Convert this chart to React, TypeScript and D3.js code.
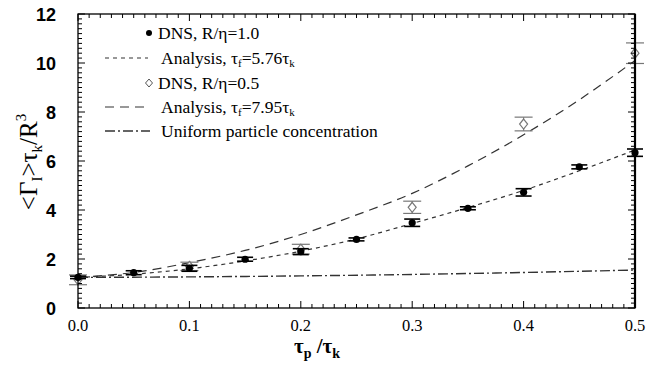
import React from "react";
import * as d3 from "d3";

const W = 647, H = 373;
const M = { left: 78, right: 635, top: 14, bottom: 308 };

const xTicks = [0, 0.1, 0.2, 0.3, 0.4, 0.5];
const xTickLabels = ["0.0", "0.1", "0.2", "0.3", "0.4", "0.5"];
const yTicks = [0, 2, 4, 6, 8, 10, 12];
const yTickLabels = ["0", "2", "4", "6", "8", "10", "12"];

// DNS, R/eta = 1.0 (filled circles)
const dns1X = [0, 0.05, 0.1, 0.15, 0.2, 0.25, 0.3, 0.35, 0.4, 0.45, 0.5];
const dns1Y = [1.25, 1.44, 1.62, 1.99, 2.3, 2.8, 3.48, 4.07, 4.72, 5.76, 6.34];
const dns1Err = [0.05, 0.08, 0.12, 0.08, 0.12, 0.06, 0.15, 0.06, 0.15, 0.08, 0.15];

// DNS, R/eta = 0.5 (open diamonds)
const dns2X = [0, 0.1, 0.2, 0.3, 0.4, 0.5];
const dns2Y = [1.15, 1.7, 2.4, 4.11, 7.51, 10.4];
const dns2Err = [0.2, 0.17, 0.2, 0.25, 0.28, 0.42];

// Analysis curves
const curveX = [0, 0.05, 0.1, 0.15, 0.2, 0.25, 0.3, 0.35, 0.4, 0.45, 0.5];
const analysisA = [1.25, 1.38, 1.6, 1.92, 2.32, 2.82, 3.45, 4.1, 4.8, 5.6, 6.45];
const analysisB = [1.25, 1.45, 1.85, 2.35, 3.0, 3.8, 4.68, 5.8, 7.07, 8.5, 10.1];
const uniformX = [0, 0.1, 0.2, 0.3, 0.4, 0.5];
const uniformY = [1.25, 1.27, 1.31, 1.37, 1.45, 1.55];

const x = d3.scaleLinear().domain([0, 0.5]).range([M.left, M.right]);
const y = d3.scaleLinear().domain([0, 12]).range([M.bottom, M.top]);

const lineGen = d3
  .line<[number, number]>()
  .x((d) => x(d[0]))
  .y((d) => y(d[1]))
  .curve(d3.curveMonotoneX);

const zip = (a: number[], b: number[]) => a.map((v, i) => [v, b[i]] as [number, number]);

const serif = "Liberation Serif, Times New Roman, Times, serif";
const sans = "Liberation Sans, Arial, Helvetica, sans-serif";

export default function App() {
  const xMinor = d3.range(0, 0.5001, 0.01);
  const yMinor = d3.range(0, 12.001, 0.2);
  const lineCol = "#333";
  const dashA = "4,4";
  const dashB = "9,6";
  const dashC = "10,3,2,3";

  const legendRows = [33, 58, 83, 107, 131];
  const serifStyle = { fontFamily: serif };

  return (
    <svg
      width={W}
      height={H}
      style={{ position: "absolute", left: 0, top: 0, background: "#fff" }}
    >
      {/* curves */}
      <path d={lineGen(zip(curveX, analysisA)) || ""} fill="none" stroke={lineCol} strokeWidth={1.2} strokeDasharray={dashA} />
      <path d={lineGen(zip(curveX, analysisB)) || ""} fill="none" stroke={lineCol} strokeWidth={1.2} strokeDasharray={dashB} />
      <path d={lineGen(zip(uniformX, uniformY)) || ""} fill="none" stroke={lineCol} strokeWidth={1.4} strokeDasharray={dashC} />

      {/* diamonds with error bars */}
      {dns2X.map((xv, i) => {
        const cx = x(xv), cy = y(dns2Y[i]);
        const y1 = y(dns2Y[i] + dns2Err[i]), y2 = y(dns2Y[i] - dns2Err[i]);
        return (
          <g key={"d" + i} stroke="#777" fill="none" strokeWidth={1.2}>
            <line x1={cx} x2={cx} y1={y1} y2={y2} />
            <line x1={cx - 9} x2={cx + 9} y1={y1} y2={y1} />
            <line x1={cx - 9} x2={cx + 9} y1={y2} y2={y2} />
            <path d={`M${cx},${cy - 5}L${cx + 4},${cy}L${cx},${cy + 5}L${cx - 4},${cy}Z`} fill="#fff" />
          </g>
        );
      })}

      {/* filled circles with error bars */}
      {dns1X.map((xv, i) => {
        const cx = x(xv), cy = y(dns1Y[i]);
        const y1 = y(dns1Y[i] + dns1Err[i]), y2 = y(dns1Y[i] - dns1Err[i]);
        return (
          <g key={"c" + i} stroke="#000" strokeWidth={1.6}>
            <line x1={cx} x2={cx} y1={y1} y2={y2} />
            <line x1={cx - 8} x2={cx + 8} y1={y1} y2={y1} />
            <line x1={cx - 8} x2={cx + 8} y1={y2} y2={y2} />
            <circle cx={cx} cy={cy} r={3.6} fill="#000" stroke="none" />
          </g>
        );
      })}

      {/* frame */}
      <rect x={M.left} y={M.top} width={M.right - M.left} height={M.bottom - M.top} fill="none" stroke="#000" strokeWidth={1.3} />
      <line x1={M.right} x2={M.right} y1={M.top} y2={M.bottom} stroke="#000" strokeWidth={2.2} />

      {/* ticks */}
      {xMinor.map((v, i) => {
        const major = i % 10 === 0;
        const len = major ? 7 : 4;
        return (
          <g key={"xt" + i} stroke="#000" strokeWidth={1}>
            <line x1={x(v)} x2={x(v)} y1={M.bottom} y2={M.bottom - len} />
            <line x1={x(v)} x2={x(v)} y1={M.top} y2={M.top + len} />
          </g>
        );
      })}
      {yMinor.map((v, i) => {
        const major = i % 10 === 0;
        const len = major ? 7 : 4;
        return (
          <g key={"yt" + i} stroke="#000" strokeWidth={1}>
            <line x1={M.left} x2={M.left + len} y1={y(v)} y2={y(v)} />
            <line x1={M.right} x2={M.right - len} y1={y(v)} y2={y(v)} />
          </g>
        );
      })}

      {/* tick labels */}
      {xTicks.map((v, i) => (
        <text key={"xl" + i} x={x(v)} y={331} textAnchor="middle" style={serifStyle} fontSize={16.5}>
          {xTickLabels[i]}
        </text>
      ))}
      {yTicks.map((v, i) => (
        <text key={"yl" + i} x={56} y={y(v) + 6.5} textAnchor="end" style={{ fontFamily: sans }} fontWeight="bold" fontSize={18}>
          {yTickLabels[i]}
        </text>
      ))}

      {/* axis titles */}
      <text x={317} y={353} textAnchor="middle" style={serifStyle} fontWeight="bold" fontSize={21}>
        τ<tspan fontSize={14} dy={5}>p</tspan>
        <tspan dy={-5}> /τ</tspan>
        <tspan fontSize={14} dy={5}>k</tspan>
      </text>
      <text transform="translate(37,162) rotate(-90)" textAnchor="middle" style={serifStyle} fontSize={25}>
        {"<Γ"}
        <tspan fontSize={15} dy={5}>I</tspan>
        <tspan dy={-5}>{">τ"}</tspan>
        <tspan fontSize={15} dy={5}>k</tspan>
        <tspan dy={-5}>/R</tspan>
        <tspan fontSize={15} dy={-11}>3</tspan>
      </text>

      {/* legend */}
      <circle cx={149} cy={legendRows[0]} r={3} fill="#000" />
      <line x1={105} x2={148} y1={legendRows[1]} y2={legendRows[1]} stroke={lineCol} strokeWidth={1.2} strokeDasharray={dashA} />
      <path d={`M149,${legendRows[2] - 4}L152.5,${legendRows[2]}L149,${legendRows[2] + 4}L145.5,${legendRows[2]}Z`} fill="#fff" stroke="#555" strokeWidth={1} />
      <line x1={105} x2={150} y1={legendRows[3]} y2={legendRows[3]} stroke={lineCol} strokeWidth={1.2} strokeDasharray={dashB} />
      <line x1={105} x2={150} y1={legendRows[4]} y2={legendRows[4]} stroke={lineCol} strokeWidth={1.4} strokeDasharray={dashC} />

      <g style={serifStyle} fontSize={17.5} fill="#000">
        <text x={158} y={legendRows[0] + 6}>DNS, R/η=1.0</text>
        <text x={161} y={legendRows[1] + 6}>
          Analysis, τ<tspan fontSize={11} dy={3}>f</tspan>
          <tspan dy={-3}>=5.76τ</tspan>
          <tspan fontSize={11} dy={3}>k</tspan>
        </text>
        <text x={158} y={legendRows[2] + 6}>DNS, R/η=0.5</text>
        <text x={161} y={legendRows[3] + 6}>
          Analysis, τ<tspan fontSize={11} dy={3}>f</tspan>
          <tspan dy={-3}>=7.95τ</tspan>
          <tspan fontSize={11} dy={3}>k</tspan>
        </text>
        <text x={161} y={legendRows[4] + 6}>Uniform particle concentration</text>
      </g>
    </svg>
  );
}
